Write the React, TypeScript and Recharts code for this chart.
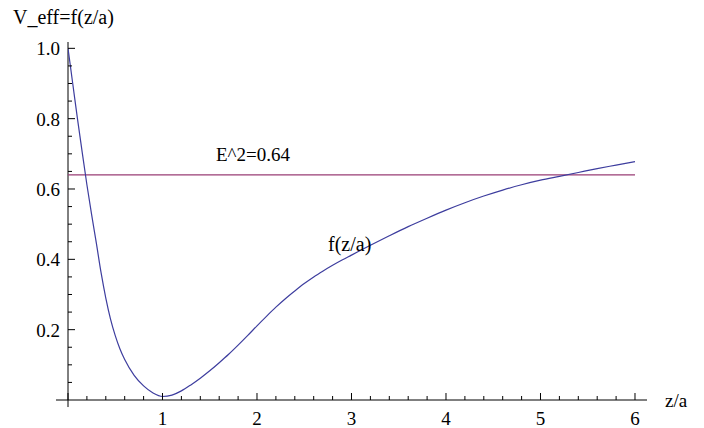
import React from 'react';
import { LineChart, Line, XAxis, YAxis, ReferenceLine } from 'recharts';

// z/a positions and f(z/a)
const zValues = [
  0, 0.05, 0.1, 0.15, 0.2, 0.25, 0.3, 0.35, 0.4, 0.45, 0.5, 0.55, 0.6, 0.7, 0.8, 0.9,
  1.0, 1.1, 1.2, 1.3, 1.4, 1.5, 1.6, 1.7, 1.8, 1.9, 2.0, 2.1, 2.2, 2.3, 2.4, 2.5, 2.6, 2.7, 2.8, 2.9, 3.0,
  3.2, 3.4, 3.6, 3.8, 4.0, 4.2, 4.4, 4.6, 4.8, 5.0, 5.2, 5.4, 5.6, 5.8, 6.0,
];
const fValues = [
  1.0, 0.9, 0.8, 0.705, 0.612, 0.527, 0.446, 0.362, 0.29, 0.23, 0.183, 0.145, 0.115, 0.07, 0.04, 0.02,
  0.01, 0.014, 0.026, 0.043, 0.062, 0.083, 0.106, 0.13, 0.156, 0.183, 0.211, 0.238, 0.264, 0.288, 0.31, 0.331, 0.35, 0.367, 0.383, 0.398, 0.412,
  0.44, 0.467, 0.493, 0.517, 0.54, 0.561, 0.58, 0.597, 0.612, 0.625, 0.636, 0.647, 0.658, 0.668, 0.678,
];
const energy = 0.64;

const xMajor = [0, 1, 2, 3, 4, 5, 6];
const yMajor = [0.2, 0.4, 0.6, 0.8, 1.0];
const xTicks = Array.from({ length: 31 }, (_, i) => Math.round(i * 0.2 * 100) / 100);
const yTicks = Array.from({ length: 21 }, (_, i) => Math.round(i * 0.05 * 100) / 100).filter((t) => t > 0);

const data = zValues.map((z, i) => ({ z, f: fValues[i] }));

const xDomain: [number, number] = [0, 6.127];
const yDomain: [number, number] = [0, 1.018];

const BLUE = '#3d3d9e';
const PURPLE = '#993d74';
const font = { fontFamily: "'Liberation Serif', 'Liberation Sans', sans-serif" };

const isMajor = (v: number, majors: number[]) => majors.some((m) => Math.abs(m - v) < 1e-6);

const XTick = (props: any) => {
  const { x, y, payload } = props;
  const major = isMajor(payload.value, xMajor);
  return (
    <g>
      <line x1={x} x2={x} y1={y} y2={y - (major ? 7 : 4)} stroke="#000" strokeWidth={1} />
      {major && payload.value !== 0 && (
        <text x={x} y={y + 25} textAnchor="middle" style={font} fontSize={19} fill="#000">
          {payload.value}
        </text>
      )}
    </g>
  );
};

const YTick = (props: any) => {
  const { x, y, payload } = props;
  const major = isMajor(payload.value, yMajor);
  return (
    <g>
      <line x1={x} x2={x + (major ? 7 : 4)} y1={y} y2={y} stroke="#000" strokeWidth={1} />
      {major && (
        <text x={x - 8} y={y + 7} textAnchor="end" style={font} fontSize={19} fill="#000">
          {payload.value.toFixed(1)}
        </text>
      )}
    </g>
  );
};

export default function App() {
  return (
    <div style={{ position: 'absolute', left: 0, top: 0, width: 704, height: 428, background: '#fff' }}>
      <LineChart width={704} height={428} data={data} margin={{ top: 42, right: 57, bottom: 0, left: 0 }}>
        <XAxis
          type="number"
          dataKey="z"
          domain={xDomain}
          ticks={xTicks}
          interval={0}
          allowDataOverflow
          axisLine={false}
          tickLine={false}
          tickSize={0}
          tickMargin={0}
          height={28}
          tick={<XTick />}
        />
        <YAxis
          type="number"
          domain={yDomain}
          ticks={yTicks}
          interval={0}
          allowDataOverflow
          axisLine={false}
          tickLine={false}
          tickSize={0}
          tickMargin={0}
          width={68}
          tick={<YTick />}
        />
        <ReferenceLine
          segment={[{ x: -0.127, y: 0 }, { x: 6.127, y: 0 }]}
          ifOverflow="visible"
          stroke="#000"
          strokeWidth={1}
        />
        <ReferenceLine
          segment={[{ x: 0, y: -0.02 }, { x: 0, y: 1.018 }]}
          ifOverflow="visible"
          stroke="#000"
          strokeWidth={1}
        />
        <ReferenceLine
          segment={[{ x: 0, y: energy }, { x: 6, y: energy }]}
          stroke={PURPLE}
          strokeWidth={1.2}
        />
        <Line
          type="monotone"
          dataKey="f"
          stroke={BLUE}
          strokeWidth={1.2}
          dot={false}
          activeDot={false}
          isAnimationActive={false}
        />
      </LineChart>
      <svg
        width={704}
        height={428}
        style={{ position: 'absolute', left: 0, top: 0, pointerEvents: 'none', ...font }}
      >
        <text x={13} y={24} fontSize={20} style={font}>V_eff=f(z/a)</text>
        <text x={216} y={161} fontSize={19} style={font}>E^2=0.64</text>
        <text x={328} y={251} fontSize={20} style={font}>f(z/a)</text>
        <text x={665} y={407} fontSize={19} style={font}>z/a</text>
      </svg>
    </div>
  );
}
